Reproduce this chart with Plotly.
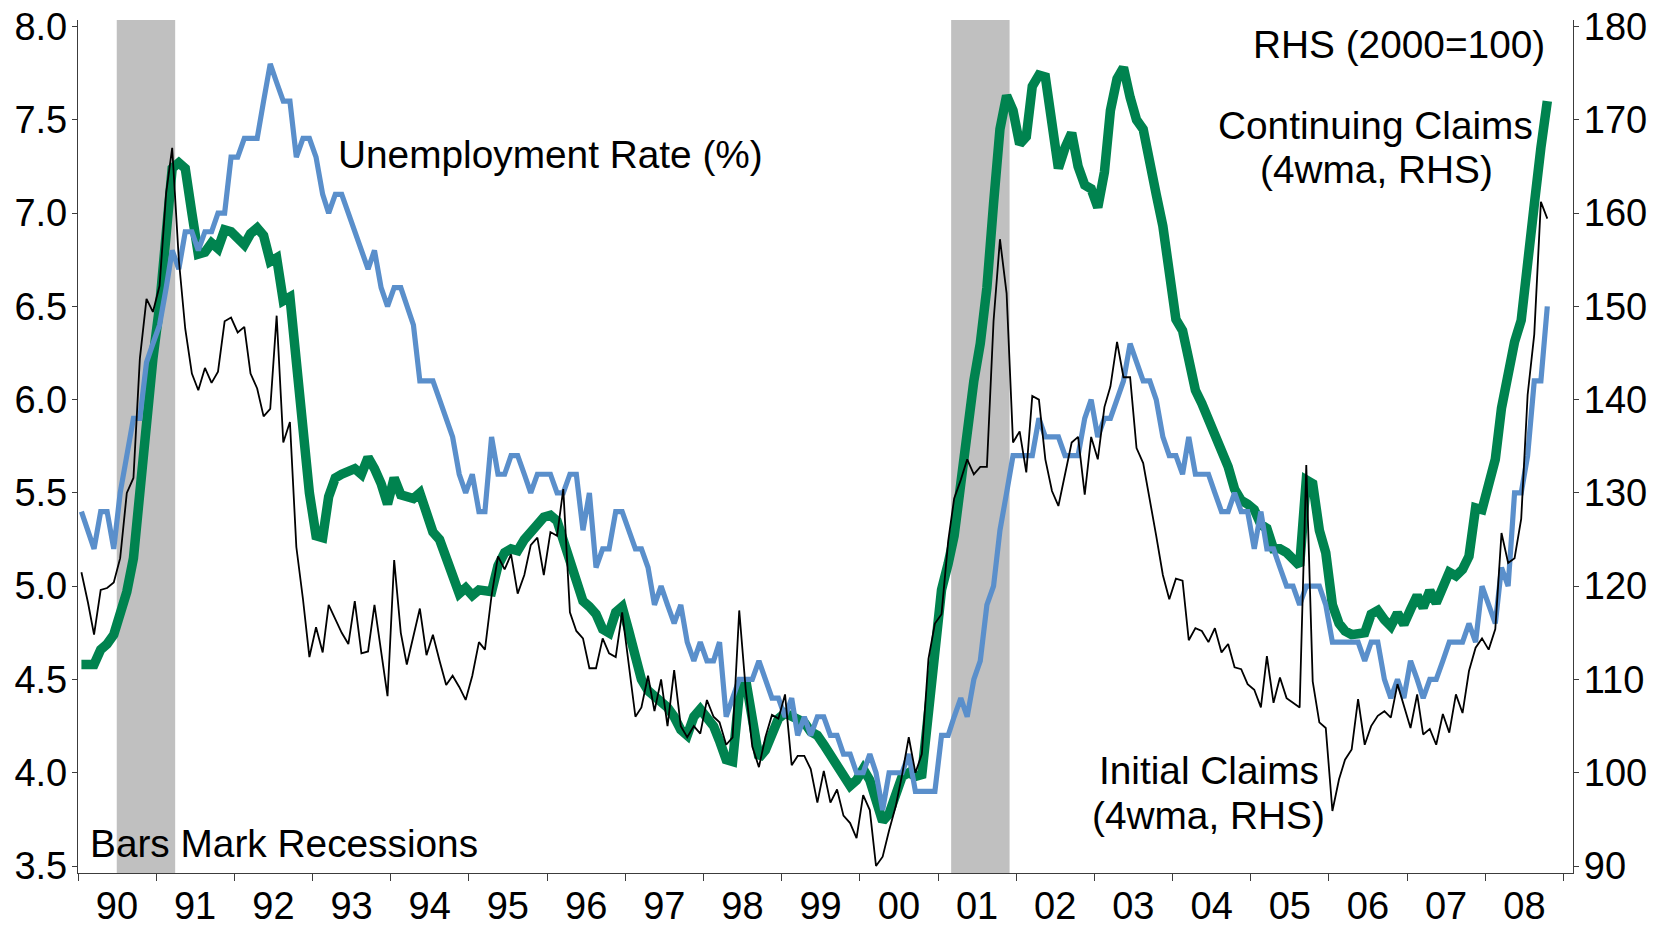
import pandas as pd
import plotly.graph_objects as go

# ---------------- data (monthly, Jan 1990 - Oct 2008) ----------------
start_month = "1990-01-01"
n_months = 226

unemployment_rate = [
    5.4, 5.3, 5.2, 5.4, 5.4, 5.2, 5.5, 5.7, 5.9, 5.9, 6.2, 6.3,
    6.4, 6.6, 6.8, 6.7, 6.9, 6.9, 6.8, 6.9, 6.9, 7.0, 7.0, 7.3,
    7.3, 7.4, 7.4, 7.4, 7.6, 7.8, 7.7, 7.6, 7.6, 7.3, 7.4, 7.4,
    7.3, 7.1, 7.0, 7.1, 7.1, 7.0, 6.9, 6.8, 6.7, 6.8, 6.6, 6.5,
    6.6, 6.6, 6.5, 6.4, 6.1, 6.1, 6.1, 6.0, 5.9, 5.8, 5.6, 5.5,
    5.6, 5.4, 5.4, 5.8, 5.6, 5.6, 5.7, 5.7, 5.6, 5.5, 5.6, 5.6,
    5.6, 5.5, 5.5, 5.6, 5.6, 5.3, 5.5, 5.1, 5.2, 5.2, 5.4, 5.4,
    5.3, 5.2, 5.2, 5.1, 4.9, 5.0, 4.9, 4.8, 4.9, 4.7, 4.6, 4.7,
    4.6, 4.6, 4.7, 4.3, 4.4, 4.5, 4.5, 4.5, 4.6, 4.5, 4.4, 4.4,
    4.3, 4.4, 4.2, 4.3, 4.2, 4.3, 4.3, 4.2, 4.2, 4.1, 4.1, 4.0,
    4.0, 4.1, 4.0, 3.8, 4.0, 4.0, 4.0, 4.1, 3.9, 3.9, 3.9, 3.9,
    4.2, 4.2, 4.3, 4.4, 4.3, 4.5, 4.6, 4.9, 5.0, 5.3, 5.5, 5.7,
    5.7, 5.7, 5.7, 5.9, 5.8, 5.8, 5.8, 5.7, 5.7, 5.7, 5.9, 6.0,
    5.8, 5.9, 5.9, 6.0, 6.1, 6.3, 6.2, 6.1, 6.1, 6.0, 5.8, 5.7,
    5.7, 5.6, 5.8, 5.6, 5.6, 5.6, 5.5, 5.4, 5.4, 5.5, 5.4, 5.4,
    5.2, 5.4, 5.2, 5.2, 5.1, 5.0, 5.0, 4.9, 5.0, 5.0, 5.0, 4.9,
    4.7, 4.7, 4.7, 4.7, 4.7, 4.6, 4.7, 4.7, 4.5, 4.4, 4.5, 4.4,
    4.6, 4.5, 4.4, 4.5, 4.5, 4.6, 4.7, 4.7, 4.7, 4.8, 4.7, 5.0,
    4.9, 4.8, 5.1, 5.0, 5.5, 5.5, 5.7, 6.1, 6.1, 6.5,
]

continuing_claims = [
    111.6, 111.6, 111.6, 113.2, 113.8, 114.8, 116.8, 119.4, 123.0, 131.0, 137.6, 144.4,
    150.0, 157.0, 164.8, 165.4, 164.8, 160.0, 155.6, 155.8, 156.8, 156.2, 158.2, 158.0,
    157.2, 156.6, 157.8, 158.4, 157.6, 154.8, 155.2, 150.6, 151.0, 143.6, 137.0, 130.0,
    125.4, 125.2, 129.6, 131.6, 132.0, 132.2, 132.6, 132.0, 133.8, 132.6, 131.0, 128.8,
    131.6, 129.8, 129.6, 129.4, 130.0, 127.8, 125.8, 125.0, 123.2, 121.0, 119.2, 119.8,
    119.0, 119.6, 119.4, 119.4, 122.2, 123.6, 124.0, 123.8, 125.0, 126.0, 126.6, 127.4,
    127.6, 127.0, 125.0, 122.4, 120.4, 118.4, 117.8, 117.0, 115.4, 115.0, 117.2, 117.8,
    115.2, 112.0, 110.0, 108.8, 108.2, 107.8, 107.0, 106.0, 104.6, 104.0, 106.0, 106.8,
    105.8, 105.0, 103.4, 101.4, 101.2, 108.4, 110.0, 106.0, 101.6, 102.4, 104.2, 105.8,
    106.4, 106.0, 105.8, 105.4, 104.4, 104.0, 103.0, 102.0, 101.0, 100.0, 98.6, 99.2,
    100.4, 99.2, 96.6, 94.8, 95.6, 97.6, 99.6, 100.0, 99.6, 99.8, 107.0, 114.0,
    119.6, 122.4, 125.4, 131.0, 137.0, 142.0, 146.0, 152.0, 161.0, 169.0, 172.6, 171.0,
    167.4, 168.2, 173.6, 174.8, 174.6, 169.0, 164.8, 167.0, 168.6, 165.0, 163.0, 162.6,
    160.6, 164.4, 171.0, 174.4, 175.6, 172.4, 170.0, 169.0, 165.0, 162.0, 158.6, 153.2,
    148.6, 147.4, 143.6, 141.0, 139.6, 138.0, 136.0, 134.4, 132.8, 130.4, 129.2, 128.8,
    128.2, 126.6, 126.2, 124.0, 124.0, 123.6, 122.8, 122.2, 131.4, 131.0, 126.0, 123.6,
    118.0, 116.0, 115.2, 114.8, 114.9, 115.0, 117.0, 117.4, 116.4, 115.7, 117.1, 115.9,
    117.5, 119.0, 117.7, 119.5, 118.2, 120.0, 121.5, 121.1, 121.8, 123.2, 128.4, 128.2,
    131.1, 133.6, 139.1, 143.2, 146.2, 148.5, 153.8, 160.9, 167.0, 172.0,
]

initial_claims = [
    121.5, 118.2, 114.8, 119.6, 119.8, 120.4, 123.0, 130.0, 131.6, 144.4, 150.8, 149.4,
    152.2, 162.2, 167.0, 155.0, 147.6, 142.8, 141.0, 143.4, 141.8, 143.0, 148.4, 148.8,
    147.2, 147.8, 142.8, 141.2, 138.2, 139.0, 149.0, 135.4, 137.6, 124.2, 118.6, 112.4,
    115.6, 112.9, 118.0, 116.4, 115.0, 113.8, 118.4, 112.8, 113.0, 118.0, 113.2, 108.2,
    122.8, 115.0, 111.6, 114.6, 117.6, 112.6, 114.8, 112.0, 109.4, 110.4, 109.2, 107.8,
    110.4, 114.0, 113.2, 119.0, 123.2, 121.8, 123.4, 119.2, 121.2, 124.4, 125.2, 121.2,
    125.8, 125.4, 130.4, 117.2, 115.2, 114.4, 111.2, 111.2, 114.4, 112.8, 112.4, 117.2,
    111.6, 106.0, 107.0, 110.4, 106.6, 110.0, 105.0, 111.0, 105.0, 103.8, 105.0, 104.2,
    107.8, 106.0, 105.4, 103.0, 103.8, 117.4, 109.0, 102.8, 100.6, 103.8, 106.2, 105.8,
    108.4, 100.8, 101.8, 101.8, 100.4, 96.8, 100.2, 96.8, 98.2, 95.4, 94.6, 93.0,
    97.6, 96.0, 90.0, 91.0, 93.8, 96.4, 99.8, 103.8, 100.0, 102.0, 112.2, 116.0,
    117.0, 124.8, 129.4, 131.4, 133.6, 132.0, 132.8, 132.8, 148.4, 157.2, 151.4, 135.4,
    136.6, 132.2, 140.4, 140.0, 133.6, 130.2, 128.6, 132.0, 135.4, 136.0, 129.8, 136.0,
    133.6, 139.2, 141.4, 146.2, 142.4, 142.4, 134.8, 133.2, 129.4, 125.4, 121.2, 118.6,
    120.8, 120.6, 114.2, 115.5, 115.2, 114.0, 115.5, 112.9, 113.8, 111.3, 111.1, 109.5,
    108.9, 107.0, 112.5, 107.5, 110.2, 108.0, 107.5, 107.0, 133.0, 109.8, 105.4, 104.8,
    95.9, 99.3, 101.4, 102.5, 107.9, 103.0, 105.0, 106.1, 106.6, 105.9, 109.5, 107.1,
    104.8, 108.4, 104.1, 104.7, 103.0, 106.3, 104.3, 108.4, 106.4, 110.9, 113.4, 114.4,
    113.2, 115.4, 125.7, 122.5, 123.0, 127.2, 140.5, 147.0, 161.2, 159.4,
]

years = list(range(1990, 2009))
year_labels = [f"{y % 100:02d}" for y in years]
left_ticks = [3.5, 4.0, 4.5, 5.0, 5.5, 6.0, 6.5, 7.0, 7.5, 8.0]
right_ticks = [90, 100, 110, 120, 130, 140, 150, 160, 170, 180]
recessions = [("1990-07-01", "1991-03-31"), ("2001-03-03", "2001-12-01")]

# ---------------- figure ----------------
dates = pd.date_range(start_month, periods=n_months, freq="MS") + pd.Timedelta(days=16)

FONT = "Liberation Sans, Arial, sans-serif"
AX = "#3c3c3c"
FS = 38
FS_NOTE = 38.8

fig = go.Figure()
# base subplot (x, y) = right-hand index axis, continuing claims drawn first
fig.add_trace(go.Scatter(x=dates, y=continuing_claims, yaxis="y", mode="lines",
                         line=dict(color="#00834f", width=9.5), name="Continuing Claims"))
# overlay (x, y2) = left-hand unemployment axis
fig.add_trace(go.Scatter(x=dates, y=unemployment_rate, yaxis="y2", mode="lines",
                         line=dict(color="#5a8fcb", width=5.2), name="Unemployment Rate"))
# overlay (x, y3) = RHS index again, initial claims on top
fig.add_trace(go.Scatter(x=dates, y=initial_claims, yaxis="y3", mode="lines",
                         line=dict(color="#000000", width=1.8), name="Initial Claims"))

for x0, x1 in recessions:
    fig.add_shape(type="rect", xref="x", yref="paper", x0=x0, x1=x1, y0=0, y1=1,
                  fillcolor="#c0c0c0", line=dict(width=0), layer="below")

left_range = [3.4625, 8.035]
right_range = [89.25, 180.7]

fig.update_layout(
    template="none",
    width=1665, height=929,
    margin=dict(l=77.5, r=92.4, t=19.5, b=56),
    paper_bgcolor="white", plot_bgcolor="white",
    showlegend=False,
    font=dict(family=FONT, size=FS, color="black"),
    xaxis=dict(
        type="date", range=["1990-01-01", "2009-02-14"], automargin=False,
        tickvals=[f"{y}-07-02" for y in years], ticktext=year_labels,
        ticks="", showline=True, linecolor=AX, linewidth=1.3,
        showgrid=False, zeroline=False, tickfont=dict(size=FS, color="black"),
        ticklabelstandoff=-1, ticklabeloverflow="allow",
        minor=dict(ticks="outside", ticklen=7, tickwidth=1.3, tickcolor=AX,
                   dtick="M12", tick0="1990-01-01", showgrid=False),
    ),
    yaxis=dict(
        range=right_range, tickvals=right_ticks, side="right", automargin=False,
        ticks="outside", ticklen=5, tickwidth=1.3, tickcolor=AX,
        showline=True, linecolor=AX, linewidth=1.3, ticklabelstandoff=-3,
        ticklabeloverflow="allow",
        showgrid=False, zeroline=False, tickfont=dict(size=FS, color="black"),
    ),
    yaxis2=dict(
        range=left_range, tickvals=left_ticks, tickformat=".1f",
        overlaying="y", side="left", automargin=False,
        ticks="outside", ticklen=5, tickwidth=1.3, tickcolor=AX,
        showline=True, linecolor=AX, linewidth=1.3, ticklabelstandoff=-3,
        ticklabeloverflow="allow",
        showgrid=False, zeroline=False, tickfont=dict(size=FS, color="black"),
    ),
    yaxis3=dict(range=right_range, overlaying="y", visible=False, automargin=False),
)

def note(text, x, y, xanchor):
    fig.add_annotation(text=text, xref="paper", yref="paper", x=x, y=y,
                       xanchor=xanchor, yanchor="middle", showarrow=False,
                       font=dict(family=FONT, size=FS_NOTE, color="black"))

note("Unemployment Rate (%)", 0.1726, 0.8418, "left")
note("RHS (2000=100)", 0.9829, 0.9712, "right")
note("Continuing Claims", 0.8679, 0.8769, "center")
note("(4wma, RHS)", 0.8683, 0.8242, "center")
note("Initial Claims", 0.7562, 0.1196, "center")
note("(4wma, RHS)", 0.7562, 0.0674, "center")
note("Bars Mark Recessions", 0.0070, 0.0340, "left")

# the page's default 8px body margin would push the 1665x929 figure off the window
fig.write_html("out.html",
               config={"displayModeBar": False},
               post_script="document.body.style.margin='0';document.body.style.overflow='hidden';")
